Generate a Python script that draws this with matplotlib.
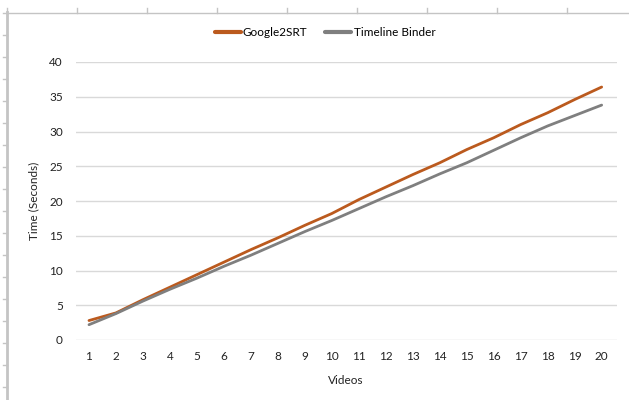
import matplotlib.pyplot as plt
from matplotlib.lines import Line2D
import numpy as np

plt.rcParams['font.family'] = ['Lato', 'DejaVu Sans']

videos = list(range(1, 21))
google2srt = [2.8, 3.9, 5.8, 7.6, 9.4, 11.2, 13.0, 14.7, 16.5, 18.2,
              20.2, 22.0, 23.8, 25.5, 27.4, 29.1, 31.0, 32.7, 34.6, 36.4]
timeline_binder = [2.2, 3.8, 5.6, 7.3, 8.9, 10.6, 12.2, 13.9, 15.6, 17.2,
                   18.9, 20.6, 22.2, 23.9, 25.5, 27.3, 29.1, 30.8, 32.3, 33.8]
series_names = ['Google2SRT', 'Timeline Binder']
series_colors = ['#BB5A1E', '#7F7F7F']

W, H = 629, 400
fig = plt.figure(figsize=(W / 100, H / 100), dpi=100)
ax = fig.add_axes([75.5 / W, 60 / H, 541 / W, 278 / H])

for vals, name, col in zip([google2srt, timeline_binder], series_names, series_colors):
    ax.plot(videos, vals, color=col, lw=2.0, label=name, solid_capstyle='round')

ax.set_xlim(0.5, 20.55)
ax.set_ylim(0, 40)
ax.set_yticks(np.arange(0, 41, 5))
ax.set_xticks(videos)
ax.grid(axis='y', color='#D9D9D9', lw=1)
ax.set_axisbelow(True)
for s in ax.spines.values():
    s.set_visible(False)
ax.tick_params(length=0, labelsize=8.5, colors='#222222')
ax.tick_params(axis='y', pad=9)
ax.tick_params(axis='x', pad=8)
ax.set_xlabel('Videos', fontsize=8.5, color='#222222', labelpad=9)
ax.set_ylabel('Time (Seconds)', fontsize=8.5, color='#222222', labelpad=7)

leg = fig.legend(loc='center', bbox_to_anchor=(325 / W, 1 - 33 / H), ncol=2,
                 frameon=False, fontsize=8.5, handlelength=2.2, handletextpad=0.2,
                 columnspacing=1.5)
for line in leg.get_lines():
    line.set_linewidth(3)

# ruler frame along the top and left edges
rc = '#C4C4C4'
fig.add_artist(Line2D([7 / W, 1], [1 - 12.5 / H] * 2, color=rc, lw=1))
fig.add_artist(Line2D([7 / W] * 2, [0, 1 - 12 / H], color=rc, lw=2))
for px in np.arange(7, W, 70):
    fig.add_artist(Line2D([px / W] * 2, [1 - 12.5 / H, 1 - 8 / H], color=rc, lw=1))
for py in np.arange(13, H, 22):
    fig.add_artist(Line2D([3.5 / W, 7 / W], [1 - py / H] * 2, color=rc, lw=1))

fig.savefig('out.png', dpi=100)
